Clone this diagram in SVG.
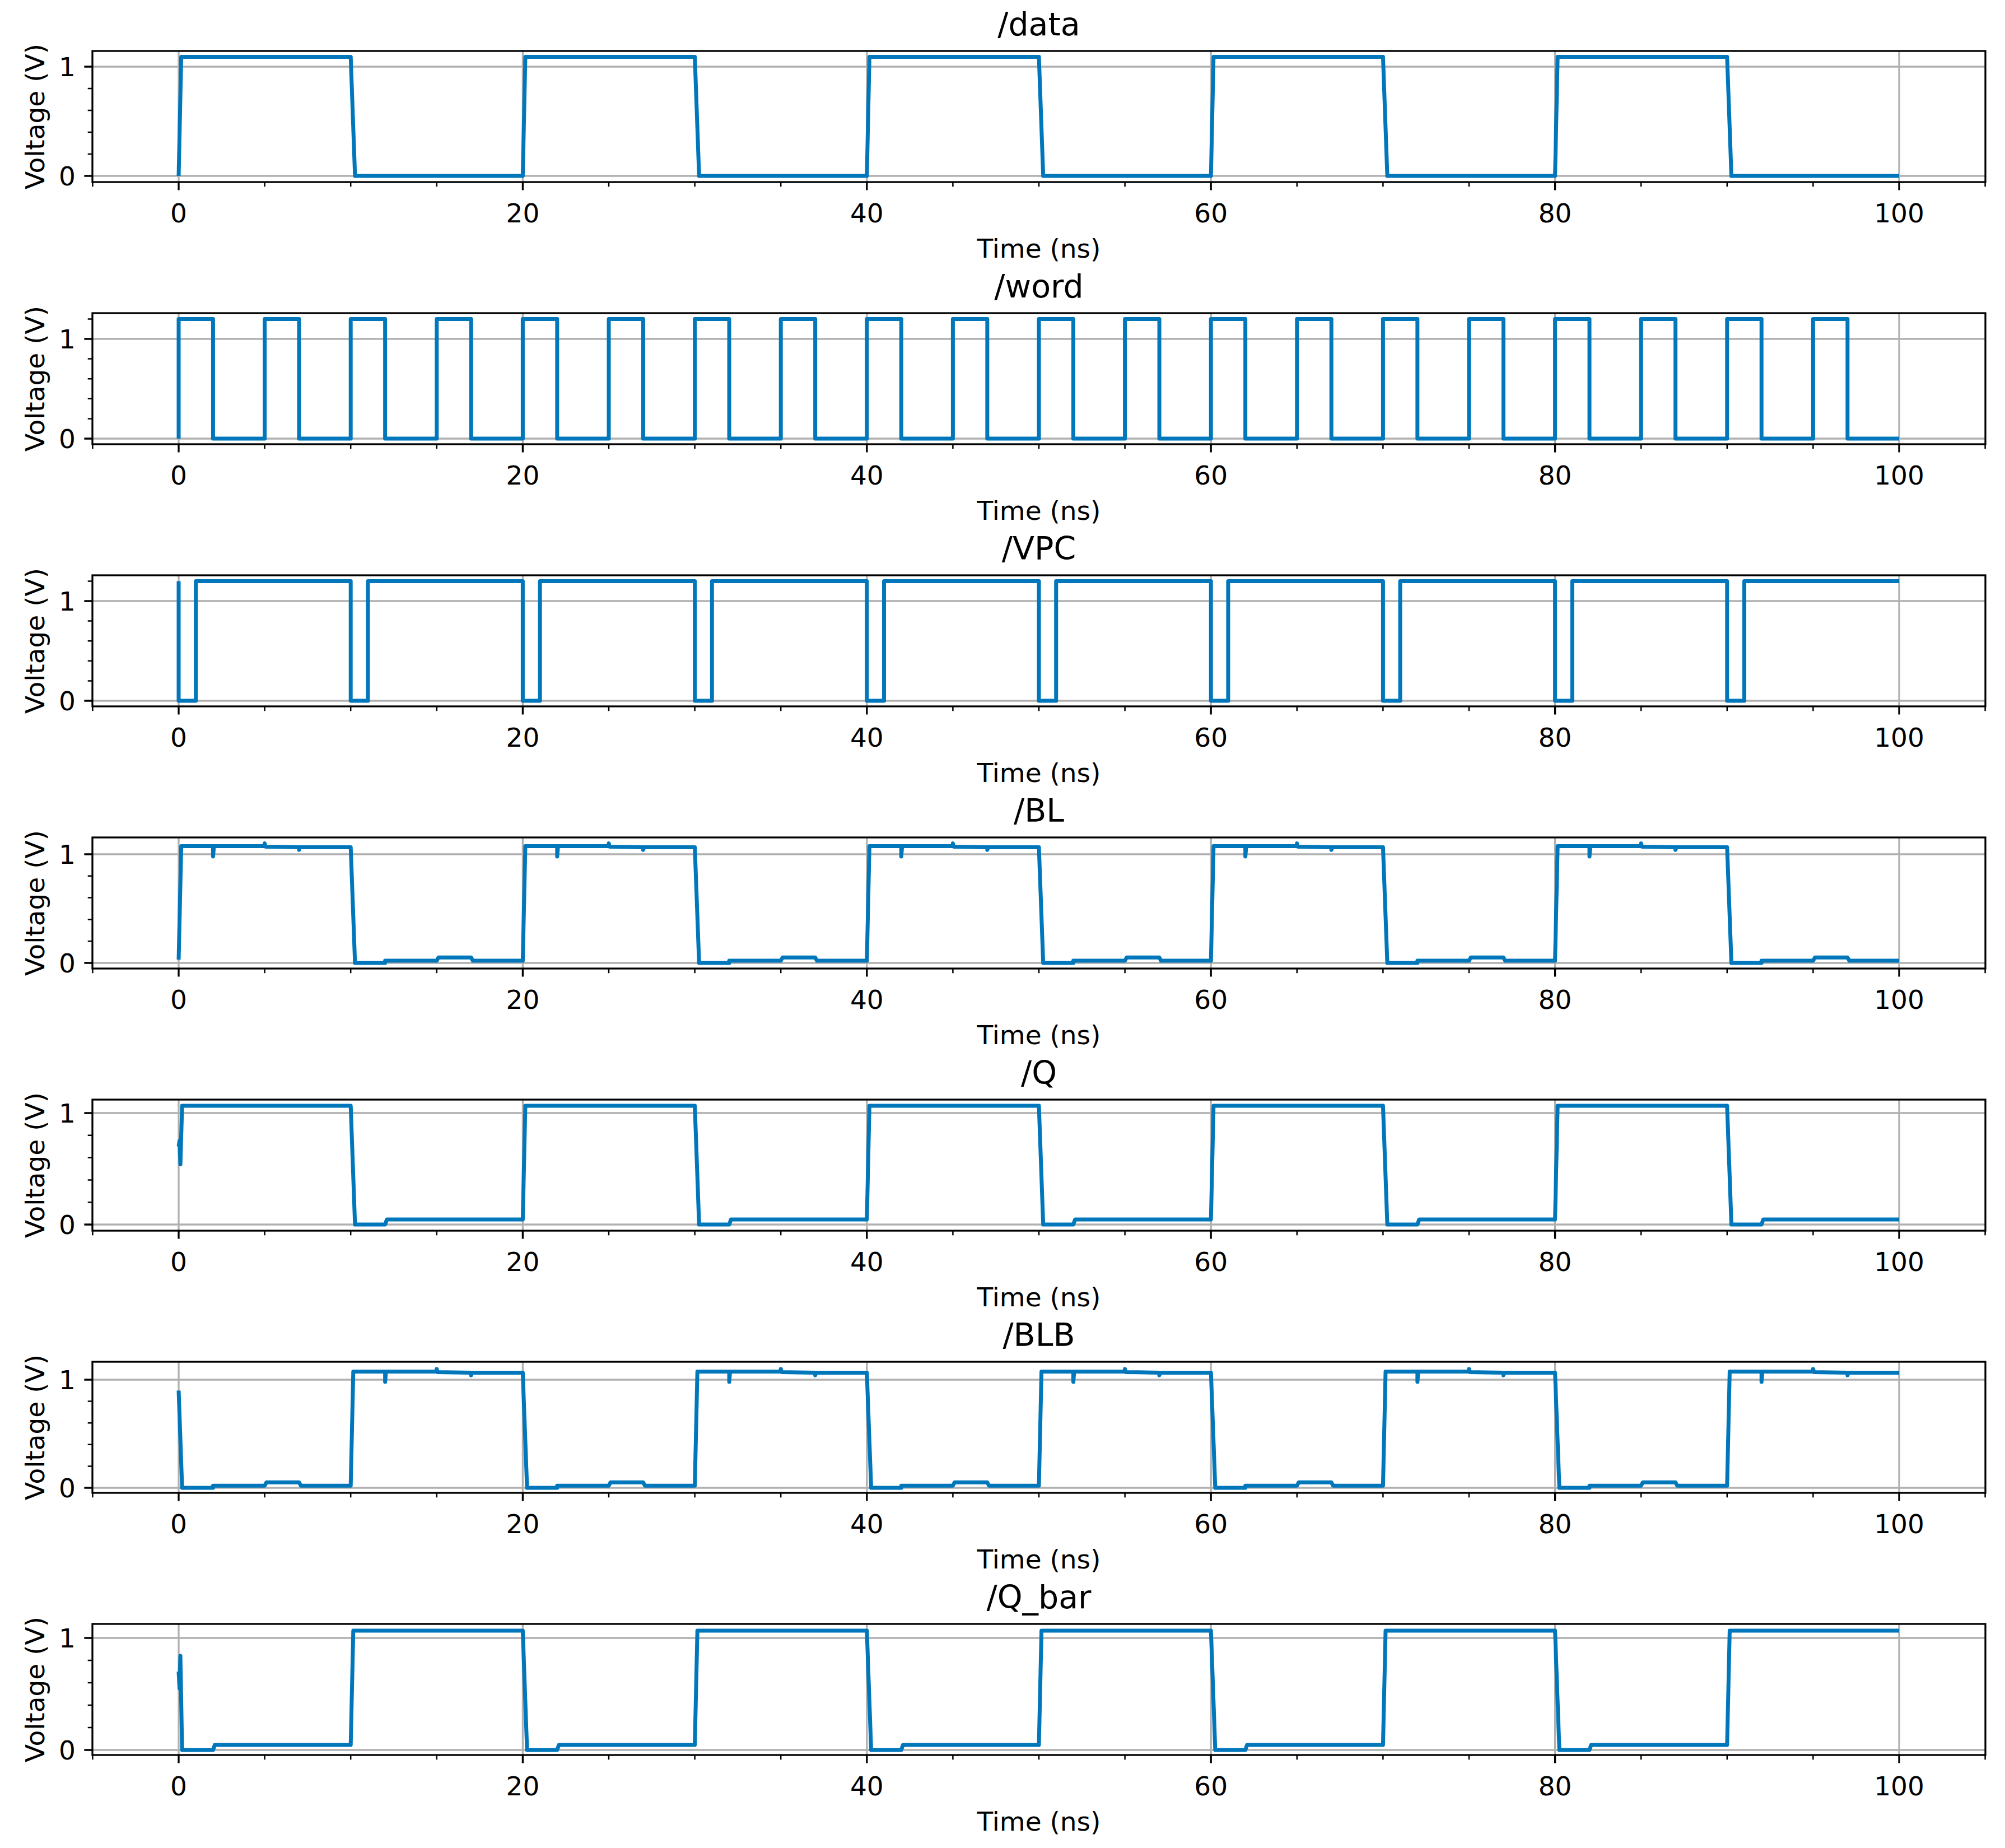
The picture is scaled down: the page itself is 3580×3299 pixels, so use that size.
<svg xmlns="http://www.w3.org/2000/svg" xmlns:xlink="http://www.w3.org/1999/xlink" width="3580" height="3299" viewBox="0 0 3580 3299">
<style>
text{font-family:"DejaVu Sans","Liberation Sans",sans-serif;fill:#000}
.tt{font-size:57px;text-anchor:middle}
.xl{font-size:47px;text-anchor:middle}
.yl{font-size:47px;text-anchor:middle}
.yt{font-size:47px;text-anchor:end}
.grid{stroke:#b0b0b0;stroke-width:3.3}
.frame{fill:none;stroke:#000;stroke-width:3.3}
.tick{stroke:#000;stroke-width:3.3}
.mtick{stroke:#000;stroke-width:2.5}
.sig{fill:none;stroke:#0077bb;stroke-width:7;stroke-linejoin:round;vector-effect:non-scaling-stroke}
</style>
<defs>
<g id="vgrid">
<line class="grid" x1="319" y1="0" x2="319" y2="234"/><line class="grid" x1="933.4" y1="0" x2="933.4" y2="234"/><line class="grid" x1="1547.8" y1="0" x2="1547.8" y2="234"/><line class="grid" x1="2162.2" y1="0" x2="2162.2" y2="234"/><line class="grid" x1="2776.6" y1="0" x2="2776.6" y2="234"/><line class="grid" x1="3391" y1="0" x2="3391" y2="234"/>
</g>
<g id="xt">
<path class="tick" d="M319,0v14.6M933.4,0v14.6M1547.8,0v14.6M2162.2,0v14.6M2776.6,0v14.6M3391,0v14.6"/>
<path class="mtick" d="M165.4,0v8.3M472.6,0v8.3M626.2,0v8.3M779.8,0v8.3M1087,0v8.3M1240.6,0v8.3M1394.2,0v8.3M1701.4,0v8.3M1855,0v8.3M2008.6,0v8.3M2315.8,0v8.3M2469.4,0v8.3M2623,0v8.3M2930.2,0v8.3M3083.8,0v8.3M3237.4,0v8.3M3544.6,0v8.3"/>
<text class="xl" x="319" y="72">0</text><text class="xl" x="933.4" y="72">20</text><text class="xl" x="1547.8" y="72">40</text><text class="xl" x="2162.2" y="72">60</text><text class="xl" x="2776.6" y="72">80</text><text class="xl" x="3391" y="72">100</text>
<text class="xl" x="1855" y="135">Time (ns)</text>
</g>
</defs>
<rect width="3580" height="3299" fill="#fff"/>

<g id="panel-data">
<use xlink:href="#vgrid" transform="translate(0,91)"/>
<line class="grid" x1="165" y1="119" x2="3545" y2="119"/><line class="grid" x1="165" y1="314" x2="3545" y2="314"/>
<path class="sig" transform="matrix(30.72,0,0,-195,319,314)" d="M0,0 l0.15,1.09 l9.85,0 l0.25,-1.09 l9.75,0 l0.15,1.09 l9.85,0 l0.25,-1.09 l9.75,0 l0.15,1.09 l9.85,0 l0.25,-1.09 l9.75,0 l0.15,1.09 l9.85,0 l0.25,-1.09 l9.75,0 l0.15,1.09 l9.85,0 l0.25,-1.09 l9.75,0"/>
<rect class="frame" x="165" y="91" width="3380" height="234"/>
<path class="tick" d="M150.4,119h14.6M150.4,314h14.6"/>
<path class="mtick" d="M156.7,275h8.3M156.7,236h8.3M156.7,197h8.3M156.7,158h8.3"/>
<text class="yt" x="135" y="136">1</text><text class="yt" x="135" y="331">0</text>
<use xlink:href="#xt" transform="translate(0,325)"/>
<text class="tt" x="1855" y="63">/data</text>
<text class="yl" transform="translate(79,208) rotate(-90)">Voltage (V)</text>
</g>

<g id="panel-word">
<use xlink:href="#vgrid" transform="translate(0,559)"/>
<line class="grid" x1="165" y1="605" x2="3545" y2="605"/><line class="grid" x1="165" y1="783" x2="3545" y2="783"/>
<path class="sig" transform="matrix(30.72,0,0,-178,319,783)" d="M0,0 l0,1.2 l2,0 l0,-1.2 l3,0 l0,1.2 l2,0 l0,-1.2 l3,0 l0,1.2 l2,0 l0,-1.2 l3,0 l0,1.2 l2,0 l0,-1.2 l3,0 l0,1.2 l2,0 l0,-1.2 l3,0 l0,1.2 l2,0 l0,-1.2 l3,0 l0,1.2 l2,0 l0,-1.2 l3,0 l0,1.2 l2,0 l0,-1.2 l3,0 l0,1.2 l2,0 l0,-1.2 l3,0 l0,1.2 l2,0 l0,-1.2 l3,0 l0,1.2 l2,0 l0,-1.2 l3,0 l0,1.2 l2,0 l0,-1.2 l3,0 l0,1.2 l2,0 l0,-1.2 l3,0 l0,1.2 l2,0 l0,-1.2 l3,0 l0,1.2 l2,0 l0,-1.2 l3,0 l0,1.2 l2,0 l0,-1.2 l3,0 l0,1.2 l2,0 l0,-1.2 l3,0 l0,1.2 l2,0 l0,-1.2 l3,0 l0,1.2 l2,0 l0,-1.2 l3,0 l0,1.2 l2,0 l0,-1.2 l3,0"/>
<rect class="frame" x="165" y="559" width="3380" height="234"/>
<path class="tick" d="M150.4,605h14.6M150.4,783h14.6"/>
<path class="mtick" d="M156.7,747.4h8.3M156.7,711.8h8.3M156.7,676.2h8.3M156.7,640.6h8.3M156.7,569.4h8.3"/>
<text class="yt" x="135" y="622">1</text><text class="yt" x="135" y="800">0</text>
<use xlink:href="#xt" transform="translate(0,793)"/>
<text class="tt" x="1855" y="531">/word</text>
<text class="yl" transform="translate(79,676) rotate(-90)">Voltage (V)</text>
</g>

<g id="panel-vpc">
<use xlink:href="#vgrid" transform="translate(0,1027)"/>
<line class="grid" x1="165" y1="1073" x2="3545" y2="1073"/><line class="grid" x1="165" y1="1251" x2="3545" y2="1251"/>
<path class="sig" transform="matrix(30.72,0,0,-178,319,1251)" d="M0,1.2 l0,-1.2 l1,0 l0,1.2 l9,0 l0,-1.2 l1,0 l0,1.2 l9,0 l0,-1.2 l1,0 l0,1.2 l9,0 l0,-1.2 l1,0 l0,1.2 l9,0 l0,-1.2 l1,0 l0,1.2 l9,0 l0,-1.2 l1,0 l0,1.2 l9,0 l0,-1.2 l1,0 l0,1.2 l9,0 l0,-1.2 l1,0 l0,1.2 l9,0 l0,-1.2 l1,0 l0,1.2 l9,0 l0,-1.2 l1,0 l0,1.2 l9,0"/>
<rect class="frame" x="165" y="1027" width="3380" height="234"/>
<path class="tick" d="M150.4,1073h14.6M150.4,1251h14.6"/>
<path class="mtick" d="M156.7,1215.4h8.3M156.7,1179.8h8.3M156.7,1144.2h8.3M156.7,1108.6h8.3M156.7,1037.4h8.3"/>
<text class="yt" x="135" y="1090">1</text><text class="yt" x="135" y="1268">0</text>
<use xlink:href="#xt" transform="translate(0,1261)"/>
<text class="tt" x="1855" y="999">/VPC</text>
<text class="yl" transform="translate(79,1144) rotate(-90)">Voltage (V)</text>
</g>

<g id="panel-bl">
<use xlink:href="#vgrid" transform="translate(0,1495)"/>
<line class="grid" x1="165" y1="1525" x2="3545" y2="1525"/><line class="grid" x1="165" y1="1719" x2="3545" y2="1719"/>
<path class="sig" transform="matrix(30.72,0,0,-194,319,1719)" d="M0,0.03 l0.15,1.045 l1.85,0 l0,-0.095 l0.05,0.095 l2.95,0 l0,0.025 l0.05,-0.03 l1.95,-0.005 l0,-0.025 l0.05,0.025 l2.95,0 l0.25,-1.065 l1.75,0 l0,0.02 l3,0 l0.1,0.03 l1.9,0 l0.1,-0.03 l2.9,0 l0.15,1.055 l1.85,0 l0,-0.095 l0.05,0.095 l2.95,0 l0,0.025 l0.05,-0.03 l1.95,-0.005 l0,-0.025 l0.05,0.025 l2.95,0 l0.25,-1.065 l1.75,0 l0,0.02 l3,0 l0.1,0.03 l1.9,0 l0.1,-0.03 l2.9,0 l0.15,1.055 l1.85,0 l0,-0.095 l0.05,0.095 l2.95,0 l0,0.025 l0.05,-0.03 l1.95,-0.005 l0,-0.025 l0.05,0.025 l2.95,0 l0.25,-1.065 l1.75,0 l0,0.02 l3,0 l0.1,0.03 l1.9,0 l0.1,-0.03 l2.9,0 l0.15,1.055 l1.85,0 l0,-0.095 l0.05,0.095 l2.95,0 l0,0.025 l0.05,-0.03 l1.95,-0.005 l0,-0.025 l0.05,0.025 l2.95,0 l0.25,-1.065 l1.75,0 l0,0.02 l3,0 l0.1,0.03 l1.9,0 l0.1,-0.03 l2.9,0 l0.15,1.055 l1.85,0 l0,-0.095 l0.05,0.095 l2.95,0 l0,0.025 l0.05,-0.03 l1.95,-0.005 l0,-0.025 l0.05,0.025 l2.95,0 l0.25,-1.065 l1.75,0 l0,0.02 l3,0 l0.1,0.03 l1.9,0 l0.1,-0.03 l2.9,0"/>
<rect class="frame" x="165" y="1495" width="3380" height="234"/>
<path class="tick" d="M150.4,1525h14.6M150.4,1719h14.6"/>
<path class="mtick" d="M156.7,1680.2h8.3M156.7,1641.4h8.3M156.7,1602.6h8.3M156.7,1563.8h8.3"/>
<text class="yt" x="135" y="1542">1</text><text class="yt" x="135" y="1736">0</text>
<use xlink:href="#xt" transform="translate(0,1729)"/>
<text class="tt" x="1855" y="1467">/BL</text>
<text class="yl" transform="translate(79,1612) rotate(-90)">Voltage (V)</text>
</g>

<g id="panel-q">
<use xlink:href="#vgrid" transform="translate(0,1963)"/>
<line class="grid" x1="165" y1="1987" x2="3545" y2="1987"/><line class="grid" x1="165" y1="2186" x2="3545" y2="2186"/>
<path class="sig" transform="matrix(30.72,0,0,-199,319,2186)" d="M0,0.7 L0.05,0.75 L0.1,0.54 L0.2,1.065 L10,1.065 L10.25,0 l1.75,0 l0.1,0.045 l7.9,0 l0.15,1.02 l9.85,0 l0.25,-1.065 l1.75,0 l0.1,0.045 l7.9,0 l0.15,1.02 l9.85,0 l0.25,-1.065 l1.75,0 l0.1,0.045 l7.9,0 l0.15,1.02 l9.85,0 l0.25,-1.065 l1.75,0 l0.1,0.045 l7.9,0 l0.15,1.02 l9.85,0 l0.25,-1.065 l1.75,0 l0.1,0.045 l7.9,0"/>
<rect class="frame" x="165" y="1963" width="3380" height="234"/>
<path class="tick" d="M150.4,1987h14.6M150.4,2186h14.6"/>
<path class="mtick" d="M156.7,2146.2h8.3M156.7,2106.4h8.3M156.7,2066.6h8.3M156.7,2026.8h8.3"/>
<text class="yt" x="135" y="2004">1</text><text class="yt" x="135" y="2203">0</text>
<use xlink:href="#xt" transform="translate(0,2197)"/>
<text class="tt" x="1855" y="1935">/Q</text>
<text class="yl" transform="translate(79,2080) rotate(-90)">Voltage (V)</text>
</g>

<g id="panel-blb">
<use xlink:href="#vgrid" transform="translate(0,2431)"/>
<line class="grid" x1="165" y1="2463" x2="3545" y2="2463"/><line class="grid" x1="165" y1="2656" x2="3545" y2="2656"/>
<path class="sig" transform="matrix(30.72,0,0,-193,319,2656)" d="M0,0.9 L0.2,0 L2,0 l0,0.02 l3,0 l0.1,0.03 l1.9,0 l0.1,-0.03 l2.9,0 l0.15,1.055 l1.85,0 l0,-0.095 l0.05,0.095 l2.95,0 l0,0.025 l0.05,-0.03 l1.95,-0.005 l0,-0.025 l0.05,0.025 l2.95,0 l0.25,-1.065 l1.75,0 l0,0.02 l3,0 l0.1,0.03 l1.9,0 l0.1,-0.03 l2.9,0 l0.15,1.055 l1.85,0 l0,-0.095 l0.05,0.095 l2.95,0 l0,0.025 l0.05,-0.03 l1.95,-0.005 l0,-0.025 l0.05,0.025 l2.95,0 l0.25,-1.065 l1.75,0 l0,0.02 l3,0 l0.1,0.03 l1.9,0 l0.1,-0.03 l2.9,0 l0.15,1.055 l1.85,0 l0,-0.095 l0.05,0.095 l2.95,0 l0,0.025 l0.05,-0.03 l1.95,-0.005 l0,-0.025 l0.05,0.025 l2.95,0 l0.25,-1.065 l1.75,0 l0,0.02 l3,0 l0.1,0.03 l1.9,0 l0.1,-0.03 l2.9,0 l0.15,1.055 l1.85,0 l0,-0.095 l0.05,0.095 l2.95,0 l0,0.025 l0.05,-0.03 l1.95,-0.005 l0,-0.025 l0.05,0.025 l2.95,0 l0.25,-1.065 l1.75,0 l0,0.02 l3,0 l0.1,0.03 l1.9,0 l0.1,-0.03 l2.9,0 l0.15,1.055 l1.85,0 l0,-0.095 l0.05,0.095 l2.95,0 l0,0.025 l0.05,-0.03 l1.95,-0.005 l0,-0.025 l0.05,0.025 l2.95,0"/>
<rect class="frame" x="165" y="2431" width="3380" height="234"/>
<path class="tick" d="M150.4,2463h14.6M150.4,2656h14.6"/>
<path class="mtick" d="M156.7,2617.4h8.3M156.7,2578.8h8.3M156.7,2540.2h8.3M156.7,2501.6h8.3"/>
<text class="yt" x="135" y="2480">1</text><text class="yt" x="135" y="2673">0</text>
<use xlink:href="#xt" transform="translate(0,2665)"/>
<text class="tt" x="1855" y="2403">/BLB</text>
<text class="yl" transform="translate(79,2548) rotate(-90)">Voltage (V)</text>
</g>

<g id="panel-qbar">
<use xlink:href="#vgrid" transform="translate(0,2899)"/>
<line class="grid" x1="165" y1="2924" x2="3545" y2="2924"/><line class="grid" x1="165" y1="3124" x2="3545" y2="3124"/>
<path class="sig" transform="matrix(30.72,0,0,-200,319,3124)" d="M0,0.7 L0.05,0.55 L0.1,0.84 L0.2,0 L2,0 L2.1,0.045 L10,0.045 l0.15,1.02 l9.85,0 l0.25,-1.065 l1.75,0 l0.1,0.045 l7.9,0 l0.15,1.02 l9.85,0 l0.25,-1.065 l1.75,0 l0.1,0.045 l7.9,0 l0.15,1.02 l9.85,0 l0.25,-1.065 l1.75,0 l0.1,0.045 l7.9,0 l0.15,1.02 l9.85,0 l0.25,-1.065 l1.75,0 l0.1,0.045 l7.9,0 l0.15,1.02 l9.85,0"/>
<rect class="frame" x="165" y="2899" width="3380" height="234"/>
<path class="tick" d="M150.4,2924h14.6M150.4,3124h14.6"/>
<path class="mtick" d="M156.7,3084h8.3M156.7,3044h8.3M156.7,3004h8.3M156.7,2964h8.3"/>
<text class="yt" x="135" y="2941">1</text><text class="yt" x="135" y="3141">0</text>
<use xlink:href="#xt" transform="translate(0,3133)"/>
<text class="tt" x="1855" y="2871">/Q_bar</text>
<text class="yl" transform="translate(79,3016) rotate(-90)">Voltage (V)</text>
</g>
</svg>
